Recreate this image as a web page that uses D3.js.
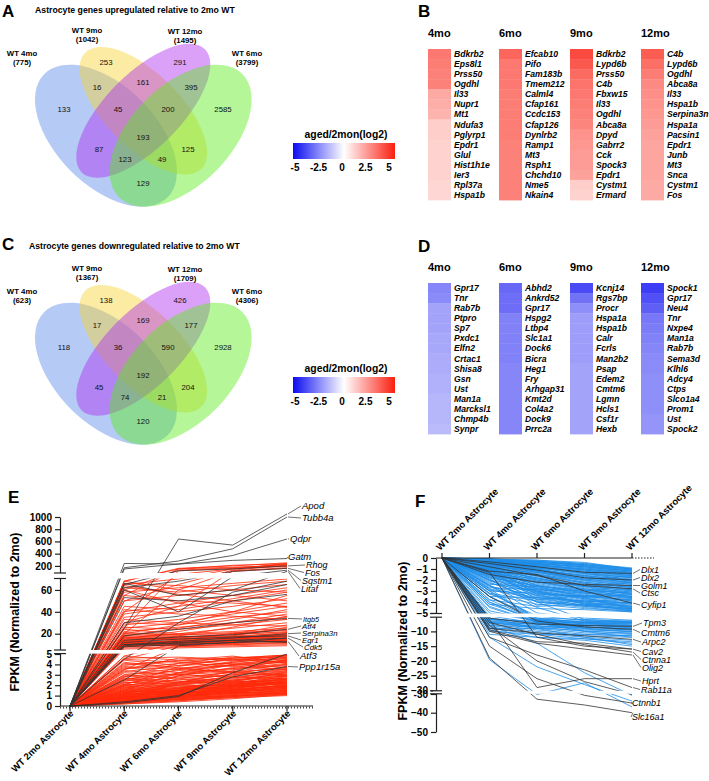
<!DOCTYPE html>
<html><head><meta charset="utf-8">
<script src="https://cdn.jsdelivr.net/npm/d3@7"></script>
<style>body{margin:0;background:#fff}svg{display:block}text{font-family:"Liberation Sans",Arial,Helvetica,sans-serif}</style>
</head><body><svg id="c" width="709" height="781"></svg>
<script>
// ---------------- DATA ----------------
const vennSetNames = ["WT 4mo","WT 9mo","WT 12mo","WT 6mo"];
const vennUpTotals = [775,1042,1495,3799];
const vennDownTotals = [623,1367,1709,4306];
// region order: 4,9,12,6,4&9,9&12,12&6,4&9&12,9&12&6,all,4&12,9&6,4&12&6,4&9&6,4&6
const vennUpCounts = [133,253,291,2585,16,161,395,45,200,193,87,125,123,49,129];
const vennDownCounts = [118,138,426,2928,17,169,177,36,590,192,45,204,74,21,120];

const heatCols = ["4mo","6mo","9mo","12mo"];
const up4Genes = ["Bdkrb2","Eps8l1","Prss50","Ogdhl","Il33","Nupr1","Mt1","Ndufa3","Pglyrp1","Epdr1","Glul","Hist1h1e","Ier3","Rpl37a","Hspa1b"];
const up4Vals  = [3.0,2.9,2.8,2.8,1.9,1.8,1.7,1.1,1.1,1.0,1.0,1.0,1.0,0.9,0.9];
const up6Genes = ["Efcab10","Pifo","Fam183b","Tmem212","Calml4","Cfap161","Ccdc153","Cfap126","Dynlrb2","Ramp1","Mt3","Rsph1","Chchd10","Nme5","Nkain4"];
const up6Vals  = [3.4,3.0,3.0,3.0,2.9,2.9,2.9,2.9,2.9,2.8,2.8,2.8,2.8,2.8,2.8];
const up9Genes = ["Bdkrb2","Lypd6b","Prss50","C4b","Fbxw15","Il33","Ogdhl","Abca8a","Dpyd","Gabrr2","Cck","Spock3","Epdr1","Cystm1","Ermard"];
const up9Vals  = [4.0,3.7,3.3,3.1,3.0,2.9,2.8,2.7,2.4,2.3,2.2,2.2,2.1,1.1,1.0];
const up12Genes = ["C4b","Lypd6b","Ogdhl","Abca8a","Il33","Hspa1b","Serpina3n","Hspa1a","Pacsin1","Epdr1","Junb","Mt3","Snca","Cystm1","Fos"];
const up12Vals  = [3.6,3.2,2.9,2.6,2.5,2.4,2.3,2.2,2.1,2.0,2.0,2.0,2.0,1.9,1.9];
const dn4Genes = ["Gpr17","Tnr","Rab7b","Ptpro","Sp7","Pxdc1","Elfn2","Crtac1","Shisa8","Gsn","Ust","Man1a","Marcksl1","Chmp4b","Synpr"];
const dn4Vals  = [-2.5,-2.4,-1.9,-1.9,-1.9,-1.8,-1.8,-1.7,-1.7,-1.6,-1.6,-1.5,-1.5,-1.5,-1.4];
const dn6Genes = ["Abhd2","Ankrd52","Gpr17","Hspg2","Ltbp4","Slc1a1","Dock6","Bicra","Heg1","Fry","Arhgap31","Kmt2d","Col4a2","Dock9","Prrc2a"];
const dn6Vals  = [-3.1,-3.0,-3.0,-2.6,-2.6,-2.6,-2.6,-2.6,-2.5,-2.5,-2.5,-2.5,-2.5,-2.5,-2.5];
const dn9Genes = ["Kcnj14","Rgs7bp","Procr","Hspa1a","Hspa1b","Calr","Fcrls","Man2b2","Psap","Edem2","Cmtm6","Lgmn","Hcls1","Csf1r","Hexb"];
const dn9Vals  = [-3.7,-2.9,-2.3,-2.0,-2.0,-2.0,-2.0,-2.0,-1.9,-1.9,-1.9,-1.9,-1.9,-1.9,-1.9];
const dn12Genes = ["Spock1","Gpr17","Neu4","Tnr","Nxpe4","Man1a","Rab7b","Sema3d","Klhl6","Adcy4","Ctps","Slco1a4","Prom1","Ust","Spock2"];
const dn12Vals  = [-4.0,-3.6,-3.3,-2.8,-2.7,-2.6,-2.5,-2.4,-2.4,-2.3,-2.3,-2.3,-2.3,-2.2,-2.2];
const colorTicks = [-5,-2.5,0,2.5,5];

const timeLabels = ["WT 2mo Astrocyte","WT 4mo Astrocyte","WT 6mo Astrocyte","WT 9mo Astrocyte","WT 12mo Astrocyte"];
// Panel E: values at 4, 6, 9, 12 mo (2mo = 0)
const eRedLow = [
[0.3,0.6,0.8,1.0],[0.4,0.7,0.9,1.1],[0.5,0.8,1.0,1.2],[0.6,0.9,1.1,1.3],[0.2,0.5,0.9,1.4],[0.7,1.0,1.2,1.5],[0.8,1.1,1.4,1.6],[0.4,0.9,1.3,1.7],[0.9,1.2,1.5,1.8],[1.0,1.3,1.6,1.9],
[0.5,1.0,1.5,2.0],[1.1,1.4,1.8,2.1],[0.6,1.2,1.7,2.2],[1.2,1.5,1.9,2.3],[0.8,1.3,2.0,2.4],[1.3,1.7,2.1,2.5],[0.3,1.1,1.8,2.6],[1.4,1.8,2.3,2.7],[0.9,1.6,2.2,2.8],[1.5,2.0,2.4,2.9],
[1.0,1.7,2.5,3.0],[1.6,2.2,2.6,3.1],[0.7,1.5,2.4,3.2],[1.8,2.3,2.8,3.3],[1.2,2.0,2.7,3.4],[2.0,2.5,3.0,3.5],[1.4,2.1,2.9,3.6],[2.2,2.8,3.2,3.7],[1.1,2.3,3.1,3.8],[2.4,3.0,3.5,3.9],
[1.7,2.6,3.3,4.0],[2.6,3.1,3.6,4.1],[1.9,2.9,3.7,4.3],[2.8,3.4,3.9,4.4],[2.1,3.2,4.0,4.6],[3.0,3.6,4.2,4.7],[2.5,3.5,4.3,4.9],[3.3,3.9,4.5,4.8],[3.6,4.1,4.4,4.5],[4.0,4.3,4.6,4.9],
[4.5,4.2,3.8,3.5],[3.8,3.5,3.3,3.0],[3.2,3.0,2.8,2.6],[2.9,2.6,2.4,2.2],[4.2,3.7,3.2,2.9],[4.8,4.4,4.0,3.7],[2.3,2.0,1.9,1.8],[1.9,1.7,1.6,1.5],[1.6,1.4,1.3,1.2],[2.7,2.4,2.2,2.0],
[0.5,0.6,0.9,1.3],[0.6,0.8,1.2,1.6],[0.7,0.9,1.3,1.9],[0.9,1.0,1.4,2.1],[1.0,1.2,1.7,2.4],[1.1,1.4,2.0,2.7],[1.3,1.5,2.1,3.0],[0.4,0.8,1.6,2.5],[0.6,1.1,1.9,2.9],[0.8,1.4,2.3,3.3],
[1.5,1.3,1.6,2.0],[1.7,1.5,1.9,2.3],[2.0,1.8,2.1,2.6],[2.3,2.1,2.5,2.9],[2.6,2.3,2.7,3.2],[3.0,2.7,3.0,3.4],[3.4,3.0,3.3,3.6],[3.7,3.2,3.6,4.0],[4.1,3.6,3.9,4.2],[4.4,3.9,4.1,4.4],
[0.9,0.8,1.0,1.1],[1.2,1.1,1.2,1.4],[1.4,1.2,1.4,1.7],[1.8,1.6,1.7,1.9],[2.1,1.9,2.0,2.2],[2.5,2.2,2.3,2.5],[0.3,0.7,1.0,1.2],[0.5,0.9,1.2,1.5],[0.7,1.2,1.5,1.8],[1.0,1.5,1.9,2.2],
[0.2,0.4,0.7,1.1],[0.3,0.5,0.8,1.2],[0.4,0.6,1.0,1.4],[0.5,0.7,1.1,1.5],[0.6,0.8,1.3,1.7],[0.7,1.0,1.4,1.8],[0.8,1.1,1.6,2.0],[0.9,1.3,1.8,2.2],[1.1,1.5,2.0,2.4],[1.3,1.7,2.2,2.6],
[2.0,3.8,4.6,4.9],[1.5,3.2,4.2,4.7],[3.5,4.6,4.4,4.8],[2.8,4.1,4.7,4.6],[0.6,2.2,3.4,4.5],[1.2,2.9,4.0,4.3],[4.6,4.7,4.5,4.2],[3.9,4.4,4.8,4.1]
];
const eRedMid = [
[10,12,14,16],[12,13,15,17],[14,15,16,18],[9,11,13,15],[11,14,16,19],[13,12,14,15],[15,16,17,19],[8,10,12,14],[16,15,16,17],[18,17,18,20],
[10,9,10,11],[12,11,11,12],[14,13,12,13],[17,16,15,16],[19,18,17,18],[7,8,9,10],[6,7,8,9],[9,9,10,12],[20,19,20,21],[11,12,13,13],
[25,30,38,45],[30,28,35,40],[35,40,45,52],[45,42,50,58],[55,50,48,45],[68,60,55,50],[22,26,30,35],[28,33,40,48],[40,48,55,62],[18,25,33,42],
[50,55,60,65],[62,58,64,68],[15,22,30,38],[24,20,22,25],[33,30,28,27],[42,38,36,33],[20,28,40,55],[12,18,26,36],[38,45,52,60],[58,62,66,70],
[16,20,25,30],[26,24,28,33],[10,14,20,28],[21,19,21,23],[14,17,19,22],[8,12,15,18],[13,16,20,24],[17,14,13,14],[9,13,17,21],[11,10,12,14],
[4.5,9,14,20],[3.5,8,11,15],[4.8,12,18,26],[66,64,60,58],[64,56,50,44],[60,48,40,36]
];
const eRedTop = [[68,150,180,200],[60,130,170,220],[40,90,150,240],[25,120,160,190],[50,65,130,210],[30,45,120,170],[65,70,150,230],[20,60,110,160],[68,160,200,250],[55,150,210,235]];
const eBlackNames = ["Apod","Tubb4a","Qdpr","Gatm","Rhog","Fos","Sqstm1","Litaf","Itgb5","Atf4","Serpina3n","Egr1","Cdk5","Atf3","Ppp1r15a"];
const eBlackVals = [
[25,640,540,1050],[170,280,480,1000],[150,230,370,640],[240,230,290,320],[65,120,150,200],[62,68,110,160],[60,40,80,130],[66,55,60,110],
[18,24,30,34],[14,17,19,24],[10,13,16,20],[12,15,17,18],[9,12,14,16],[8,10,12,13],[0.4,1.0,2.8,3.8]];
const eBlackExtra = [[53,50,55,65],[4.5,30,58,68],[0.3,0.9,3.2,5],[2.5,9,12,16],[30,36,50,56],[10,11,14,12]];
const eTicks = [0,1,2,3,4,5,20,40,60,200,400,600,800,1000];

// Panel F
const fBlueTop = [
[-0.1,-0.3,-0.6,-1.0],[-0.1,-0.4,-0.7,-1.1],[-0.2,-0.5,-0.8,-1.2],[-0.2,-0.5,-0.9,-1.3],[-0.3,-0.6,-1.0,-1.4],[-0.1,-0.6,-1.1,-1.5],[-0.3,-0.7,-1.2,-1.6],[-0.4,-0.8,-1.3,-1.7],[-0.2,-0.8,-1.4,-1.8],[-0.4,-0.9,-1.5,-1.9],
[-0.5,-1.0,-1.6,-2.0],[-0.3,-1.0,-1.7,-2.1],[-0.6,-1.1,-1.8,-2.2],[-0.4,-1.2,-1.9,-2.3],[-0.7,-1.3,-2.0,-2.4],[-0.5,-1.3,-2.1,-2.5],[-0.8,-1.4,-2.2,-2.6],[-0.6,-1.5,-2.3,-2.7],[-0.9,-1.6,-2.4,-2.8],[-0.7,-1.7,-2.5,-2.9],
[-1.0,-1.8,-2.6,-3.0],[-0.8,-1.9,-2.7,-3.1],[-1.1,-2.0,-2.8,-3.2],[-0.9,-2.1,-2.9,-3.3],[-1.2,-2.2,-3.0,-3.4],[-1.0,-2.3,-3.1,-3.5],[-1.3,-2.4,-3.2,-3.6],[-1.1,-2.5,-3.3,-3.7],[-1.4,-2.6,-3.4,-3.8],[-1.2,-2.7,-3.5,-3.9],
[-1.5,-2.8,-3.6,-4.0],[-1.3,-2.9,-3.7,-4.1],[-1.6,-3.0,-3.8,-4.2],[-1.4,-3.1,-3.9,-4.3],[-1.7,-3.2,-4.0,-4.4],[-1.5,-3.3,-4.1,-4.5],[-1.8,-3.4,-4.2,-4.6],[-2.0,-3.6,-4.3,-4.7],[-2.2,-3.8,-4.4,-4.8],[-2.5,-4.0,-4.5,-4.9],
[-0.2,-0.3,-0.5,-1.0],[-0.3,-0.4,-0.6,-1.1],[-0.4,-0.5,-0.8,-1.3],[-0.5,-0.7,-1.0,-1.5],[-0.6,-0.9,-1.3,-1.8],[-0.8,-1.1,-1.6,-2.1],[-1.0,-1.3,-1.9,-2.4],[-1.2,-1.6,-2.2,-2.7],[-1.4,-1.9,-2.5,-3.0],[-1.6,-2.2,-2.8,-3.3],
[-1.8,-2.5,-3.1,-3.6],[-2.0,-2.8,-3.4,-3.9],[-2.3,-3.1,-3.7,-4.2],[-2.6,-3.4,-4.0,-4.5],[-2.9,-3.7,-4.3,-4.7],[-3.2,-3.9,-4.4,-4.6],[-3.5,-3.6,-3.9,-4.1],[-3.0,-3.2,-3.5,-3.8],[-2.7,-2.9,-3.2,-3.5],[-2.4,-2.6,-2.9,-3.2],
[-0.5,-1.5,-2.0,-1.6],[-0.7,-2.0,-2.6,-2.2],[-0.9,-2.5,-3.2,-2.8],[-1.1,-3.0,-3.6,-3.3],[-1.3,-3.5,-4.0,-3.7],[-1.5,-4.0,-4.3,-4.0],[-0.6,-2.8,-3.0,-2.5],[-0.8,-3.3,-3.5,-3.0],[-1.0,-3.8,-3.4,-3.6],[-1.9,-4.3,-3.8,-4.4],
[-0.1,-0.2,-0.4,-1.0],[-0.2,-0.4,-0.7,-1.2],[-0.3,-0.5,-0.9,-1.4],[-0.4,-0.7,-1.1,-1.7],[-0.5,-0.8,-1.4,-2.0],[-0.6,-1.0,-1.7,-2.3],[-0.7,-1.2,-2.0,-2.6],[-0.9,-1.5,-2.3,-2.9],[-1.1,-1.8,-2.6,-3.2],[-1.3,-2.1,-2.9,-3.5],
[-0.1,-0.2,-0.5,-0.9],[-0.2,-0.3,-0.6,-1.0],[-0.1,-0.3,-0.7,-1.1],[-0.3,-0.5,-0.8,-1.2],[-0.2,-0.6,-1.0,-1.3],[-0.4,-0.6,-1.1,-1.5],[-0.3,-0.8,-1.2,-1.6],[-0.5,-0.9,-1.4,-1.8],[-0.6,-1.1,-1.6,-2.0],[-0.7,-1.2,-1.8,-2.2],
[-2.8,-3.6,-4.1,-4.4],[-3.3,-4.2,-4.6,-4.8],[-3.8,-4.4,-4.2,-4.6],[-4.2,-4.6,-4.7,-4.9],[-1.7,-2.6,-3.6,-4.6],[-2.1,-3.0,-4.2,-4.8]
];
const fBlueMid = [
[-2.5,-4.5,-6.5,-7.0],[-3.0,-5.5,-7.0,-7.5],[-3.5,-6.0,-7.5,-8.0],[-4.0,-6.5,-8.0,-8.5],[-4.5,-7.0,-8.5,-9.0],[-5.5,-7.5,-9.0,-9.5],[-6.0,-8.0,-9.5,-10.0],[-6.5,-8.5,-10.0,-10.5],[-7.0,-9.0,-10.5,-11.0],[-7.5,-9.5,-11.0,-11.5],
[-8.0,-10.0,-11.5,-12.0],[-8.5,-10.5,-12.0,-13.0],[-9.0,-11.0,-12.5,-14.0],[-9.5,-12.0,-13.0,-15.0],[-6.0,-6.5,-7.0,-6.5],[-7.0,-7.5,-7.5,-7.0],[-8.0,-8.5,-8.0,-8.0],[-9.0,-9.0,-8.5,-9.0],[-3.0,-6.0,-9.0,-10.0],[-4.0,-7.0,-10.0,-12.0],
[-2.0,-4.0,-6.0,-6.5],[-2.5,-5.0,-5.5,-6.2],[-3.5,-5.5,-6.0,-6.8],[-5.0,-6.5,-7.0,-7.8],[-10.0,-11.0,-11.0,-11.5],[-11.0,-12.0,-12.5,-13.5],[-5.5,-9.0,-12.0,-14.5],
[-3.8,-6.2,-7.2,-8.2],[-4.4,-6.8,-7.8,-8.8],[-5.2,-7.2,-8.4,-9.6],[-2.8,-5.8,-6.8,-7.4],[-6.8,-8.8,-9.8,-10.8],
[-3.2,-5.2,-6.3,-6.9],[-4.2,-6.0,-6.6,-7.2],[-4.8,-6.4,-7.4,-8.0],[-5.8,-7.0,-7.9,-8.6],[-6.4,-7.6,-8.6,-9.2],[-7.2,-8.2,-9.2,-10.2]
];
const fBlueDeep = [[-19.6,-30.5,-27.4,-37],[-12,-22,-28,-34],[-8,-14,-24,-31]];
const fBlackNames = ["Dlx1","Dlx2","Golm1","Ctsc","Cyfip1","Tpm3","Cmtm6","Arpc2","Cav2","Ctnna1","Olig2","Hprt","Rab11a","Ctnnb1","Slc16a1"];
const fBlackVals = [
[-0.35,-0.8,-1.3,-1.4],[-0.5,-1.1,-1.8,-2.0],[-1.5,-2.2,-2.4,-2.5],[-0.8,-1.6,-2.5,-2.8],[-1.2,-1.5,-3.0,-4.1],
[-5.5,-7.5,-8.0,-8.3],[-3.5,-6.5,-8.5,-9.3],[-9,-10.5,-11.5,-12.7],[-9.5,-13.5,-14,-16],[-7,-11,-14.5,-17],[-10,-14,-16,-18],
[-6,-29,-26,-26],[-12,-18,-23,-29],[-15,-26,-31,-35],[-19,-33,-36,-40]];
const fBlackExtra = [[-1.3,-12,-15,-16],[-8,-20,-27,-30.5]];
const fTicks = [0,-1,-2,-3,-4,-5,-10,-15,-20,-25,-30,-40,-50];

// ---------------- DRAW ----------------
const svg = d3.select("#c");
svg.append("rect").attr("width",709).attr("height",781).attr("fill","#fff");
const FONT = '"Liberation Sans",Arial,Helvetica,sans-serif';

function txt(g, x, y, s, opts) {
  const t = g.append("text").attr("x", x).attr("y", y).text(s)
    .attr("font-size", opts.size || 10).attr("font-weight", opts.bold ? "bold" : "normal")
    .attr("font-style", opts.italic ? "italic" : "normal")
    .attr("text-anchor", opts.anchor || "start").attr("fill", opts.fill || "#000");
  return t;
}
function fitWidth(t, w) {
  const L = t.node().getComputedTextLength();
  const s = +t.attr("font-size");
  if (L > 0) t.attr("font-size", (s * w / L).toFixed(2));
  return t;
}

// panel letters
[["A",2,17],["B",418,17],["C",2,250],["D",418,252],["E",8,503],["F",415,507]].forEach(d =>
  txt(svg, d[1], d[2], d[0], {size: 17, bold: true}));

// ---- Venn ----
const vu = 249, vx0 = 18.8;
const vennEllipses = [ // layout (unit coords): cx, cy, a, b, rot, fill
  {cx:0.35, cy:0.47, a:0.35, b:0.20, rot:45, fill:"#5b8cea"},
  {cx:0.50, cy:0.57, a:0.33, b:0.15, rot:45, fill:"#f6d232"},
  {cx:0.50, cy:0.57, a:0.35, b:0.15, rot:-45, fill:"#b02ff0"},
  {cx:0.65, cy:0.47, a:0.35, b:0.20, rot:-45, fill:"#58ec1a"}
];
const regionPos = [[64,109],[106,62],[180,62],[223,109],[97,87],[143,82],[191,87],[118,109],[168,109],[143,137],[99,149],[188,149],[125,159],[162,159],[143,183]];
const setLabelPos = [[22,53],[87,30],[185,31],[247,53]];

function drawVenn(dy, totals, counts) {
  const g = svg.append("g").attr("transform", `translate(0,${dy})`);
  vennEllipses.forEach(e => {
    g.append("ellipse")
      .attr("cx", 0).attr("cy", 0).attr("rx", e.a * vu).attr("ry", e.b * vu)
      .attr("transform", `translate(${vx0 + e.cx * vu},${252.7 - e.cy * vu}) rotate(${e.rot})`)
      .attr("fill", e.fill).attr("fill-opacity", 0.45).attr("stroke", "none");
  });
  counts.forEach((c, i) => txt(g, regionPos[i][0], regionPos[i][1] + 2.8, c, {size: 7.8, anchor: "middle", fill:"#111"}));
  vennSetNames.forEach((n, i) => {
    txt(g, setLabelPos[i][0], setLabelPos[i][1] + 2.8, n, {size: 7.8, bold: true, anchor: "middle"});
    txt(g, setLabelPos[i][0], setLabelPos[i][1] + 12, `(${totals[i]})`, {size: 7.8, bold: true, anchor: "middle"});
  });
}
fitWidth(txt(svg, 35, 13, "Astrocyte genes upregulated relative to  2mo WT", {size: 8, bold: true}), 200);
fitWidth(txt(svg, 29, 249, "Astrocyte genes downregulated relative to  2mo WT", {size: 8, bold: true}), 211);
drawVenn(0, vennUpTotals, vennUpCounts);
drawVenn(238, vennDownTotals, vennDownCounts);

// ---- colour scale ----
const heatColor = d3.scaleLinear().domain([-5, 0, 5]).range(["#0c0cf2", "#ffffff", "#fa1e10"]);
const defs = svg.append("defs");
const grad = defs.append("linearGradient").attr("id", "cbar");
[-5,-2.5,0,2.5,5].forEach((v, i) => grad.append("stop").attr("offset", (i * 25) + "%").attr("stop-color", heatColor(v)));
function drawColorBar(dy) {
  const g = svg.append("g").attr("transform", `translate(0,${dy})`);
  const cx = d3.scaleLinear().domain([-5, 5]).range([295, 389]);
  fitWidth(txt(g, 346, 138, "aged/2mon(log2)", {size: 10.5, bold: true, anchor: "middle"}), 83);
  g.append("rect").attr("x", 293).attr("y", 143).attr("width", 102).attr("height", 16).attr("fill", "url(#cbar)");
  colorTicks.forEach(v => txt(g, cx(v), 171, v, {size: 10, bold: true, anchor: "middle"}));
}
drawColorBar(0);
drawColorBar(234);

// ---- heatmaps ----
const colX = d3.scalePoint().domain(heatCols).range([428, 641]);
function drawHeat(dy, genesArr, valsArr) {
  const g = svg.append("g").attr("transform", `translate(0,${dy})`);
  const rowY = d3.scaleBand().domain(d3.range(15)).range([49, 200]);
  heatCols.forEach((c, ci) => {
    const x0 = colX(c);
    txt(g, x0, 37, c, {size: 11, bold: true});
    valsArr[ci].forEach((v, ri) => {
      g.append("rect").attr("x", x0).attr("y", rowY(ri)).attr("width", 23).attr("height", rowY.bandwidth() + 0.4)
        .attr("fill", heatColor(v));
      txt(g, x0 + 26, rowY(ri) + rowY.bandwidth() / 2 + 3, genesArr[ci][ri], {size: 8.6, bold: true, italic: true});
    });
  });
}
drawHeat(0, [up4Genes, up6Genes, up9Genes, up12Genes], [up4Vals, up6Vals, up9Vals, up12Vals]);
drawHeat(234, [dn4Genes, dn6Genes, dn9Genes, dn12Genes], [dn4Vals, dn6Vals, dn9Vals, dn12Vals]);

// ---- Panel E ----
const eX = d3.scalePoint().domain(timeLabels).range([70, 287]);
const eY = d3.scaleLinear().domain([0, 5, 6, 70, 100, 1000]).range([706, 654, 649, 579, 572, 517]);
const eLine = d3.line().x((d, i) => eX(timeLabels[i])).y(d => eY(d));
const gE = svg.append("g");
const withZero = a => [0].concat(a);
[...eRedLow, ...eRedMid, ...eRedTop].forEach(r =>
  gE.append("path").attr("d", eLine(withZero(r))).attr("fill", "none").attr("stroke", "#ff2a0a").attr("stroke-width", 0.8));
[...eBlackExtra, ...eBlackVals].forEach(r =>
  gE.append("path").attr("d", eLine(withZero(r))).attr("fill", "none").attr("stroke", "#333").attr("stroke-width", 0.8));
// axis breaks
[[650, 653.6], [573, 578.5]].forEach(b =>
  gE.append("rect").attr("x", 56).attr("y", b[0]).attr("width", 250).attr("height", b[1] - b[0]).attr("fill", "#fff"));
const eAxis = gE.append("g").attr("transform", "translate(60,0)")
  .call(d3.axisLeft(eY).tickValues(eTicks).tickSize(5).tickSizeOuter(0).tickFormat(d3.format("d")));
eAxis.selectAll("text").attr("font-size", 10).attr("font-weight", "bold").attr("font-family", FONT).attr("fill", "#000");
eAxis.selectAll("line,path").attr("stroke", "#222").attr("stroke-width", 1.2);
[[650, 653.6], [573, 578.5]].forEach(b => {
  gE.append("rect").attr("x", 57).attr("y", b[0]).attr("width", 6).attr("height", b[1] - b[0]).attr("fill", "#fff");
  [b[0], b[1]].forEach(y => gE.append("line").attr("x1", 54).attr("x2", 66).attr("y1", y).attr("y2", y).attr("stroke", "#222").attr("stroke-width", 1.2));
});
// x axis
gE.append("line").attr("x1", 60).attr("x2", 313).attr("y1", 706).attr("y2", 706).attr("stroke", "#222").attr("stroke-width", 1.2);
gE.append("line").attr("x1", 60).attr("x2", 313).attr("y1", 707.5).attr("y2", 707.5).attr("stroke", "#444").attr("stroke-width", 2).attr("stroke-dasharray", "1,2");
timeLabels.forEach(t => {
  gE.append("line").attr("x1", eX(t)).attr("x2", eX(t)).attr("y1", 706).attr("y2", 711).attr("stroke", "#222").attr("stroke-width", 1.2);
  txt(gE, 0, 0, t, {size: 9.5, bold: true, anchor: "end"}).attr("transform", `translate(${eX(t) + 4},${714}) rotate(-45)`);
});
txt(gE, 0, 0, "FPKM (Normalized to 2mo)", {size: 12.5, bold: true, anchor: "middle"}).attr("transform", "translate(19,612) rotate(-90)");
// gene labels
const eLabelY = [506,518,539,557,565,572.5,580.5,588.5,619,626,633,640,647,656,667];
const eLabelX = [302,302,290,288,306,305,302,301,303,302,302,302,304,300,299];
const eLabelSize = [9.5,9.5,9.5,9.5,9,9,9,9,7.2,7.8,7.8,7.8,7.8,9.5,9.5];
eBlackNames.forEach((n, i) => {
  const ey = eY(eBlackVals[i][3]);
  gE.append("line").attr("x1", 288).attr("y1", ey).attr("x2", eLabelX[i] - 1).attr("y2", eLabelY[i]).attr("stroke", "#333").attr("stroke-width", 0.7);
  txt(gE, eLabelX[i], eLabelY[i] + 3.1, n, {size: eLabelSize[i], italic: true});
});

// ---- Panel F ----
const fX = d3.scalePoint().domain(timeLabels).range([442, 632]);
const fY = d3.scaleLinear().domain([0, -5, -5.3, -30, -30.3, -50]).range([558, 613, 617.5, 690.5, 694, 732]);
const fLine = d3.line().x((d, i) => fX(timeLabels[i])).y(d => fY(d));
const gF = svg.append("g");
[...fBlueTop, ...fBlueMid, ...fBlueDeep].forEach(r =>
  gF.append("path").attr("d", fLine(withZero(r))).attr("fill", "none").attr("stroke", "#1d8de8").attr("stroke-width", 0.8));
[...fBlackExtra, ...fBlackVals].forEach(r =>
  gF.append("path").attr("d", fLine(withZero(r))).attr("fill", "none").attr("stroke", "#333").attr("stroke-width", 0.8));
[[613.5, 617.2], [690.8, 693.8]].forEach(b =>
  gF.append("rect").attr("x", 432).attr("y", b[0]).attr("width", 230).attr("height", b[1] - b[0]).attr("fill", "#fff"));
gF.append("g").attr("transform", "translate(436,0)")
  .call(d3.axisLeft(fY).tickValues(fTicks).tickSize(5).tickSizeOuter(0).tickFormat(d3.format("d")));
gF.append("g").attr("transform", "translate(436,0)")
  .call(d3.axisLeft(fY).tickValues([-30.3]).tickSize(5).tickSizeOuter(0).tickFormat(() => "-30"))
  .select(".domain").remove();
gF.selectAll(".tick text").attr("font-size", 10).attr("font-weight", "bold").attr("font-family", FONT).attr("fill", "#000");
gF.selectAll(".tick line, .domain").attr("stroke", "#222").attr("stroke-width", 1.2);
[[613.5, 617.2], [690.8, 693.8]].forEach(b => {
  gF.append("rect").attr("x", 433).attr("y", b[0]).attr("width", 6).attr("height", b[1] - b[0]).attr("fill", "#fff");
  [b[0], b[1]].forEach(y => gF.append("line").attr("x1", 430).attr("x2", 442).attr("y1", y).attr("y2", y).attr("stroke", "#222").attr("stroke-width", 1.2));
});
gF.append("line").attr("x1", 436).attr("x2", 632).attr("y1", 558).attr("y2", 558).attr("stroke", "#222").attr("stroke-width", 1.2);
gF.append("line").attr("x1", 632).attr("x2", 654).attr("y1", 558).attr("y2", 558).attr("stroke", "#222").attr("stroke-width", 1.2).attr("stroke-dasharray", "1.5,1.5");
timeLabels.forEach(t => {
  gF.append("line").attr("x1", fX(t)).attr("x2", fX(t)).attr("y1", 558).attr("y2", 553).attr("stroke", "#222").attr("stroke-width", 1.2);
  txt(gF, 0, 0, t, {size: 9.5, bold: true}).attr("transform", `translate(${fX(t) - 2},${551}) rotate(-45)`);
});
txt(gF, 0, 0, "FPKM (Normalized to 2mo)", {size: 12.5, bold: true, anchor: "middle"}).attr("transform", "translate(407,641) rotate(-90)");
const fLabelY = [569.5,577.5,585.5,593,605,623,632.5,642,651.5,659.5,667.5,681,689.5,703,717];
const fLabelX = [641,641,641,641,641,643,641,642,642,642,642,642,641,632,632];
fBlackNames.forEach((n, i) => {
  const ey = fY(fBlackVals[i][3]);
  gF.append("line").attr("x1", 633).attr("y1", ey).attr("x2", fLabelX[i] - 1).attr("y2", fLabelY[i]).attr("stroke", "#333").attr("stroke-width", 0.7);
  txt(gF, fLabelX[i], fLabelY[i] + 3.1, n, {size: 9, italic: true});
});
</script></body></html>
